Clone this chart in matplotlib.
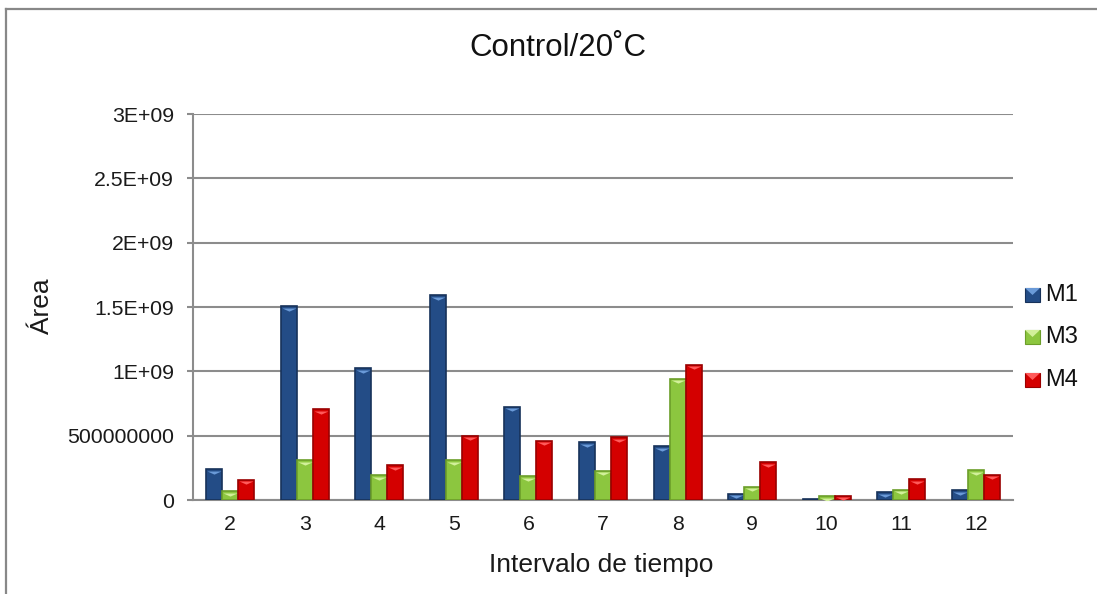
import matplotlib
matplotlib.use("Agg")
import matplotlib.pyplot as plt
import numpy as np
from matplotlib.path import Path
from matplotlib.lines import Line2D
from matplotlib.transforms import ScaledTranslation

plt.rcParams['font.family'] = ['Liberation Sans', 'DejaVu Sans']

# Time intervals and measured areas per series
intervals = ['2', '3', '4', '5', '6', '7', '8', '9', '10', '11', '12']
m1 = [2.40e8, 1.509e9, 1.026e9, 1.592e9, 7.26e8, 4.50e8, 4.16e8, 4.9e7, 6e6, 6.2e7, 7.5e7]
m3 = [6.7e7, 3.07e8, 1.94e8, 3.10e8, 1.83e8, 2.27e8, 9.43e8, 1.03e8, 2.8e7, 8.0e7, 2.33e8]
m4 = [1.58e8, 7.08e8, 2.69e8, 4.99e8, 4.60e8, 4.86e8, 1.052e9, 2.95e8, 3.4e7, 1.60e8, 1.96e8]
series_names = ['M1', 'M3', 'M4']
yticks = [0, 5e8, 1e9, 1.5e9, 2e9, 2.5e9, 3e9]
ytick_labels = ['0', '500000000', '1E+09', '1.5E+09', '2E+09', '2.5E+09', '3E+09']

# (body, edge, top highlight)
styles = [
    ('#234c86', '#17325a', '#6a9ad8'),
    ('#8cc63f', '#6c9e2a', '#d2f09a'),
    ('#d40000', '#9a0000', '#ff5a5a'),
]

W, H = 1097, 594
fig = plt.figure(figsize=(W / 100, H / 100), dpi=100)
ax = fig.add_axes([193 / W, 1 - 500 / H, (1013 - 193) / W, (500 - 114) / H])

x = np.arange(len(intervals))
bw = 0.215
offsets = [-bw, 0, bw]

# downward-pointing wedge used as the bevel highlight at the top of each bar
tri = Path([(-1, 0), (1, 0), (0, -0.45), (-1, 0)],
           [Path.MOVETO, Path.LINETO, Path.LINETO, Path.CLOSEPOLY])
tri_shift = ax.transData + ScaledTranslation(0, -1.2 / 72, fig.dpi_scale_trans)

for vals, off, (body, edge, hi), name in zip([m1, m3, m4], offsets, styles, series_names):
    ax.bar(x + off, vals, width=bw, color=body, edgecolor=edge, linewidth=1.2,
           zorder=3, label=name)
    ax.plot(x + off, vals, linestyle='none', marker=tri, markersize=10,
            markerfacecolor=hi, markeredgewidth=0, zorder=4, transform=tri_shift)

ax.set_xlim(-0.5, len(intervals) - 0.5)
ax.set_ylim(0, 3e9)
ax.set_yticks(yticks)
ax.set_yticklabels(ytick_labels)
ax.set_xticks(x)
ax.set_xticklabels(intervals)

grid_c = '#8c8c8c'
ax.yaxis.grid(True, color=grid_c, linewidth=1.5, zorder=0)
ax.set_axisbelow(True)
for s in ['top', 'right']:
    ax.spines[s].set_visible(False)
for s in ['left', 'bottom']:
    ax.spines[s].set_color(grid_c)
    ax.spines[s].set_linewidth(1.5)
ax.tick_params(axis='y', length=4.5, width=1.5, color=grid_c, pad=9,
               labelsize=15.3, labelcolor='#1a1a1a')
ax.tick_params(axis='x', length=0, pad=11, labelsize=15.3, labelcolor='#1a1a1a')

fig.text(42 / W, 1 - 306 / H, 'Área', rotation=90, ha='center', va='center',
         fontsize=19, color='#1a1a1a')
fig.text(601 / W, 1 - 565 / H, 'Intervalo de tiempo', ha='center', va='center',
         fontsize=19, color='#1a1a1a')
fig.text(558 / W, 1 - 48 / H, 'Control/20˚C', ha='center', va='center',
         fontsize=22.5, color='#111111')

# legend drawn as square swatches with labels
leg_y = [295, 337, 380]
for (body, edge, hi), name, yy in zip(styles, series_names, leg_y):
    yc = 1 - yy / H
    fig.add_artist(plt.Rectangle((1025 / W, yc - 7 / H), 15 / W, 14 / H,
                                 facecolor=body, edgecolor=edge, linewidth=0.8,
                                 transform=fig.transFigure))
    fig.add_artist(plt.Polygon([(1025 / W, yc + 7 / H), (1040 / W, yc + 7 / H),
                                (1032.5 / W, yc)], closed=True, facecolor=hi,
                               edgecolor='none', transform=fig.transFigure))
    fig.text(1045 / W, yc, name, ha='left', va='center', fontsize=17,
             color='#111111')

# chart frame (left and top edges)
fc = '#888888'
fig.add_artist(Line2D([6 / W, 6 / W], [0, 1 - 9 / H], color=fc, linewidth=1.6,
                      transform=fig.transFigure))
fig.add_artist(Line2D([6 / W, 1], [1 - 9 / H, 1 - 9 / H], color=fc, linewidth=1.6,
                      transform=fig.transFigure))

fig.savefig('out.png', dpi=100)
